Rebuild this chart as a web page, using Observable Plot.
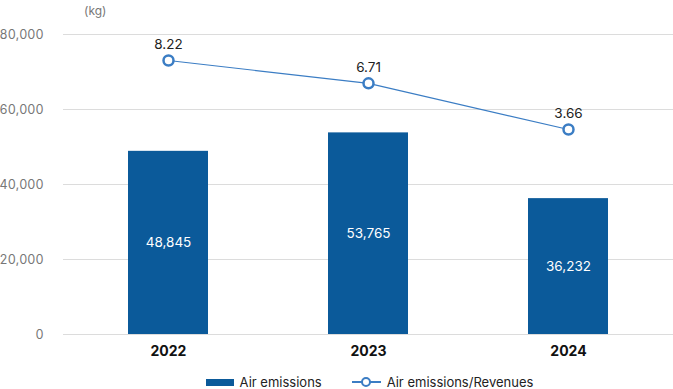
<!DOCTYPE html>
<html>
<head>
<meta charset="utf-8">
<script src="https://cdn.jsdelivr.net/npm/d3@7"></script>
<script src="https://cdn.jsdelivr.net/npm/@observablehq/plot@0.6"></script>
<style>
  body { margin: 0; background: #fff; font-family: Inter, "Noto Sans", sans-serif; }
  #chart { width: 673px; }
  .legend { display: flex; justify-content: center; align-items: center; font-size: 13px; color: #222; height: 24px; margin-top: 8px; padding-left: 66px; }
  .legend .item { display: flex; align-items: center; }
  .sw-bar { width: 28px; height: 7px; background: #0b5a9a; margin-right: 6px; }
  .sw-line { position: relative; width: 29px; height: 10px; margin-right: 6px; }
  .sw-line::before { content: ""; position: absolute; left: 0; right: 0; top: 4px; height: 1.5px; background: #3b7dc4; }
  .sw-line::after { content: ""; position: absolute; left: 9px; top: 0px; width: 6px; height: 6px; border: 2.5px solid #3b7dc4; border-radius: 50%; background: #fff; }
</style>
</head>
<body>
<div id="chart"></div>
<script>
const years = ["2022", "2023", "2024"];
const emissions = [48845, 53765, 36232];
const ratios = [8.22, 6.71, 3.66];
const yTicks = [0, 20000, 40000, 60000, 80000];
// hidden secondary axis domain for the ratio series (aligned with primary 0..80000)
const ratioDomain = [-9.89, 9.94];

const barColor = "#0b5a9a";
const lineColor = "#3b7dc4";

const data = years.map((y, i) => ({ year: y, value: emissions[i], ratio: ratios[i] }));
const toPrimary = r => (r - ratioDomain[0]) / (ratioDomain[1] - ratioDomain[0]) * 80000;

const plot = Plot.plot({
  width: 673,
  height: 362,
  marginLeft: 63,
  marginRight: 0,
  marginTop: 34,
  marginBottom: 28,
  style: { fontFamily: "Inter, 'Noto Sans', sans-serif", background: "#fff", overflow: "visible" },
  x: { domain: years, paddingInner: 0.6, paddingOuter: 0.32, label: null, axis: null },
  y: { domain: [0, 80000], label: null, axis: null },
  marks: [
    Plot.ruleY(yTicks, { stroke: "#dcdcdc", strokeWidth: 1 }),
    Plot.axisY({ ticks: yTicks, tickSize: 0, tickPadding: 20, tickFormat: d => d3.format(",")(d), fill: "#777", fontSize: 12.5, label: null }),
    Plot.text(["(kg)"], { frameAnchor: "top-left", dx: 43, dy: -28, text: d => d, textAnchor: "end", fill: "#777", fontSize: 12 }),
    Plot.barY(data, { x: "year", y: "value", fill: barColor }),
    Plot.text(data, { x: "year", y: d => d.value / 2, text: d => d3.format(",")(d.value), fill: "#fff", fontSize: 13.5 }),
    Plot.axisX({ tickSize: 0, tickPadding: 12, fontSize: 14, fontWeight: "bold", fill: "#111", label: null }),
    Plot.line(data, { x: "year", y: d => toPrimary(d.ratio), stroke: lineColor, strokeWidth: 1.2 }),
    Plot.dot(data, { x: "year", y: d => toPrimary(d.ratio), r: 5, fill: "#fff", stroke: lineColor, strokeWidth: 2.5 }),
    Plot.text(data, { x: "year", y: d => toPrimary(d.ratio), text: d => d.ratio.toFixed(2), dy: -16, fill: "#222", fontSize: 13.5 })
  ]
});
document.getElementById("chart").appendChild(plot);

const legend = document.createElement("div");
legend.className = "legend";
legend.innerHTML = `
  <div class="item" style="margin-right:30px"><div class="sw-bar"></div><span>Air emissions</span></div>
  <div class="item"><div class="sw-line"></div><span>Air emissions/Revenues</span></div>`;
document.getElementById("chart").appendChild(legend);
</script>
</body>
</html>
